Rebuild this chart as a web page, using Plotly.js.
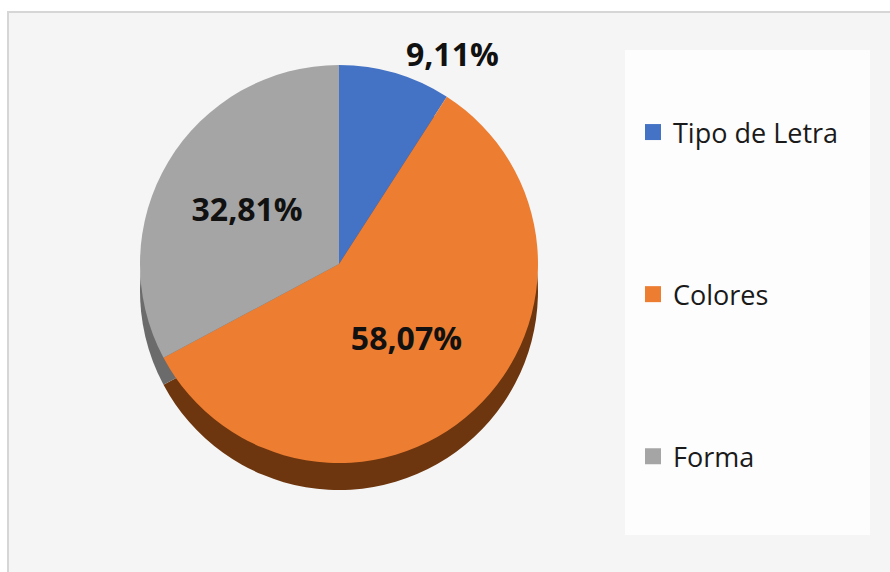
<!DOCTYPE html>
<html>
<head>
<meta charset="utf-8">
<script src="https://cdn.plot.ly/plotly-3.0.1.min.js"></script>
<style>html,body{margin:0;padding:0;background:#fff;}#chart{width:890px;height:572px;}</style>
</head>
<body>
<div id="chart"></div>
<script>
const categories = ['Tipo de Letra', 'Colores', 'Forma'];
const values = [9.11, 58.07, 32.81];
const colors = ['#4472C4', '#ED7D31', '#A5A5A5'];
const sideColors = ['#2c4a80', '#6e360e', '#6b6b6b'];
const labelPositions = ['outside', 'inside', 'inside'];

const W = 890, H = 572;
const cx = 339, cy = 264, r = 199, depth = 27;
function px(x) { return x / W; }
function py(y) { return 1 - y / H; }

const sidePie = {
  type: 'pie', labels: categories, values: values, sort: false, direction: 'clockwise', rotation: 0,
  marker: { colors: sideColors, line: { width: 0 } },
  textinfo: 'none', hoverinfo: 'skip', showlegend: false,
  domain: { x: [px(cx - r), px(cx + r)], y: [py(cy + r + depth), py(cy - r + depth)] }
};
const mainPie = {
  type: 'pie', labels: categories, values: values, sort: false, direction: 'clockwise', rotation: 0,
  marker: { colors: colors, line: { width: 0 } },
  texttemplate: '%{value:.2f}%', textposition: labelPositions,
  insidetextorientation: 'horizontal',
  textfont: { family: 'Open Sans, sans-serif', size: 32, color: '#111', weight: 700 },
  showlegend: false,
  domain: { x: [px(cx - r), px(cx + r)], y: [py(cy + r), py(cy - r)] }
};
const legendTraces = categories.map((c, i) => ({
  type: 'scatter', mode: 'markers', x: [null], y: [null], name: c,
  legendgroup: 'g' + i, hoverinfo: 'skip',
  marker: { symbol: 'square', size: 16, color: colors[i] }
}));

const layout = {
  width: W, height: H,
  margin: { l: 0, r: 0, t: 0, b: 0 },
  paper_bgcolor: '#ffffff', plot_bgcolor: 'rgba(0,0,0,0)',
  separators: ',.',
  xaxis: { visible: false }, yaxis: { visible: false },
  showlegend: true,
  legend: {
    x: px(633), y: py(108), xanchor: 'left', yanchor: 'top',
    bgcolor: 'rgba(0,0,0,0)', traceorder: 'grouped', tracegroupgap: 124,
    font: { family: 'Open Sans, sans-serif', size: 27, color: '#1a1a1a' }
  },
  shapes: [
    { type: 'rect', xref: 'paper', yref: 'paper', x0: px(8), x1: 1.02, y0: -0.02, y1: py(12),
      fillcolor: '#f5f5f5', line: { color: '#d6d6d6', width: 2 }, layer: 'below' },
    { type: 'rect', xref: 'paper', yref: 'paper', x0: px(625), x1: px(870), y0: py(535), y1: py(50),
      fillcolor: '#fdfdfd', line: { width: 0 }, layer: 'below' }
  ]
};

Plotly.newPlot('chart', [sidePie, mainPie].concat(legendTraces), layout, { displayModeBar: false, staticPlot: true });
</script>
</body>
</html>
